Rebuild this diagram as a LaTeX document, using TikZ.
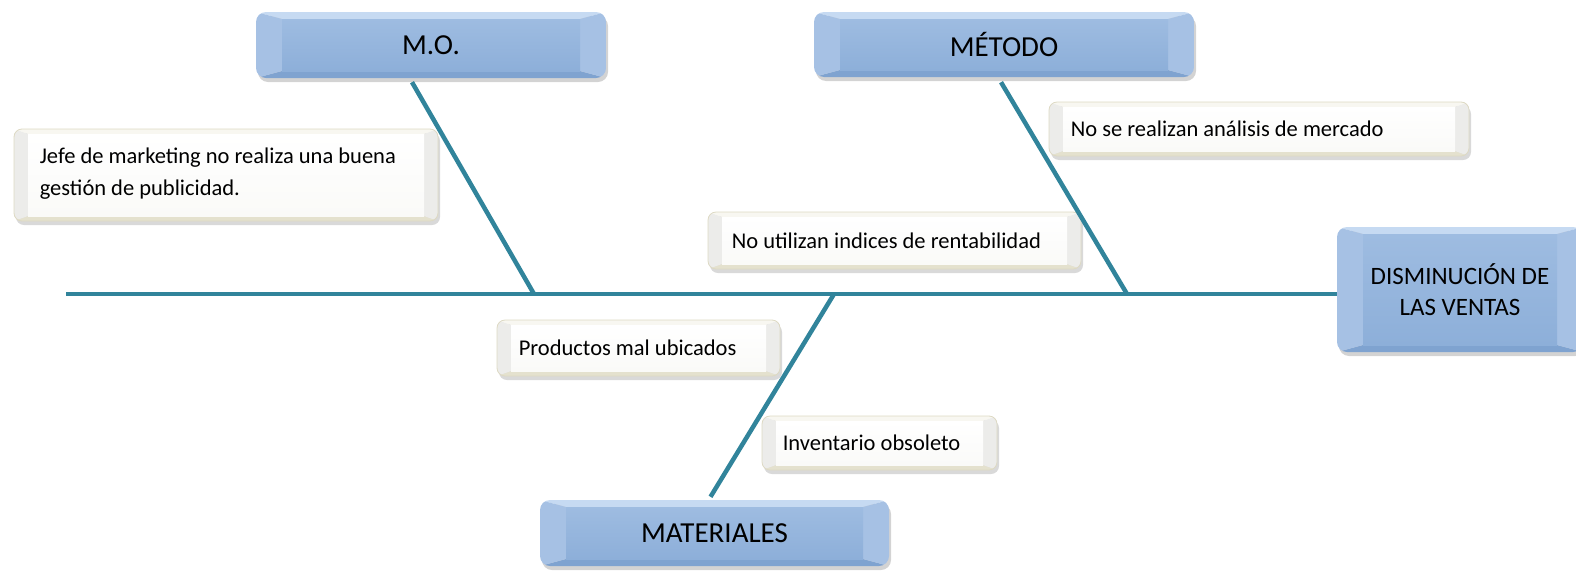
\documentclass[tikz,border=0pt]{standalone}
\usepackage{fontspec}
\setmainfont{Carlito}
\usetikzlibrary{shadows,calc}
\definecolor{bone}{HTML}{31849B}
\definecolor{bfacet}{HTML}{9EBCE1}
\definecolor{bfaceb}{HTML}{8DAFD9}
\definecolor{btop}{HTML}{C6DAF2}
\definecolor{bbot}{HTML}{7FA3D0}
\definecolor{bside}{HTML}{A6C1E4}
\definecolor{wfacet}{HTML}{FFFFFF}
\definecolor{wfaceb}{HTML}{FAFAF8}
\definecolor{wtop}{HTML}{F8F7F1}
\definecolor{wbot}{HTML}{E4E1CE}
\definecolor{wside}{HTML}{ECECEA}
\definecolor{wedge}{HTML}{DDD9C3}
\newcommand{\mybevel}[7]{%
 \path (path picture bounding box.north west) coordinate (bnw)
       (path picture bounding box.north east) coordinate (bne)
       (path picture bounding box.south west) coordinate (bsw)
       (path picture bounding box.south east) coordinate (bse);
 \fill[#3, sharp corners] (bnw) -- (bne) -- ([shift={(-#1,-#2)}]bne) -- ([shift={(#1,-#2)}]bnw) -- cycle;
 \fill[#4, sharp corners] (bsw) -- (bse) -- ([shift={(-#1,#2)}]bse) -- ([shift={(#1,#2)}]bsw) -- cycle;
 \fill[#5, sharp corners] (bnw) -- ([shift={(#1,-#2)}]bnw) -- ([shift={(#1,#2)}]bsw) -- (bsw) -- cycle;
 \fill[#5, sharp corners] (bne) -- ([shift={(-#1,-#2)}]bne) -- ([shift={(-#1,#2)}]bse) -- (bse) -- cycle;
 \shade[top color=#6, bottom color=#7, sharp corners] ([shift={(#1,-#2)}]bnw) rectangle ([shift={(-#1,#2)}]bse);
}
\tikzset{
 bluebox/.style={rounded corners=10pt, draw=none, font=\fontsize{29}{34}\selectfont,
   align=center, inner sep=0pt,
   drop shadow={opacity=0.35, shadow xshift=2pt, shadow yshift=-4pt},
   path picture={\mybevel{26pt}{7pt}{btop}{bbot}{bside}{bfacet}{bfaceb}}},
 whitebox/.style={rounded corners=8pt, draw=wedge, line width=0.8pt, inner sep=0pt,
   drop shadow={opacity=0.3, shadow xshift=2pt, shadow yshift=-4pt},
   path picture={\mybevel{14pt}{5pt}{wtop}{wbot}{wside}{wfacet}{wfaceb}}},
 wtext/.style={anchor=west, align=left, inner sep=0pt, font=\fontsize{22.5}{32}\selectfont},
 bonestyle/.style={draw=bone, line width=4.5pt}
}
\begin{document}
\begin{tikzpicture}[x=1pt,y=-1pt]
\useasboundingbox (0,0) rectangle (1576,571);
% blue boxes
\node[bluebox, minimum width=350pt, minimum height=66pt] (mo) at (431,45) {M.O.};
\node[bluebox, minimum width=380pt, minimum height=65pt] (met) at (1004,44.5) {MÉTODO};
\node[bluebox, minimum width=246pt, minimum height=125pt,
      font=\fontsize{25}{31}\selectfont] (efe) at (1460,289.5) {DISMINUCIÓN DE\\LAS VENTAS};
\node[bluebox, minimum width=349pt, minimum height=66pt] (mat) at (714.5,533) {MATERIALES};
% white boxes
\node[whitebox, minimum width=424pt, minimum height=92pt] (c1) at (226,175) {};
\node[whitebox, minimum width=420pt, minimum height=54pt] (c2) at (1259,129) {};
\node[whitebox, minimum width=373pt, minimum height=57pt] (c3) at (894.5,240.5) {};
\node[whitebox, minimum width=283pt, minimum height=56pt] (c4) at (638.5,348) {};
\node[whitebox, minimum width=235pt, minimum height=54pt] (c5) at (879.5,443) {};
\node[wtext] (t1) at ([xshift=26pt,yshift=1pt]c1.west) {Jefe de marketing no realiza una buena\\gestión de publicidad.};
\node[wtext] (t2) at ([xshift=22pt]c2.west) {No se realizan análisis de mercado};
\node[wtext] (t3) at ([xshift=24pt]c3.west) {No utilizan indices de rentabilidad};
\node[wtext] (t4) at ([xshift=22pt]c4.west) {Productos mal ubicados};
\node[wtext] (t5) at ([xshift=21pt]c5.west) {Inventario obsoleto};
% bones
\coordinate (tail) at (66,294);
\coordinate (moend) at (534,294);
\coordinate (metend) at (1127,294);
\coordinate (matstart) at (834,294);
\draw[bonestyle] (tail) -- (efe.west |- tail);
\draw[bonestyle] ([shift={(-19pt,-4pt)}]mo.south) -- (moend);
\draw[bonestyle] ([shift={(-3pt,-5pt)}]met.south) -- (metend);
\draw[bonestyle] (matstart) -- ([shift={(-4pt,3pt)}]mat.north);
\end{tikzpicture}
\end{document}
